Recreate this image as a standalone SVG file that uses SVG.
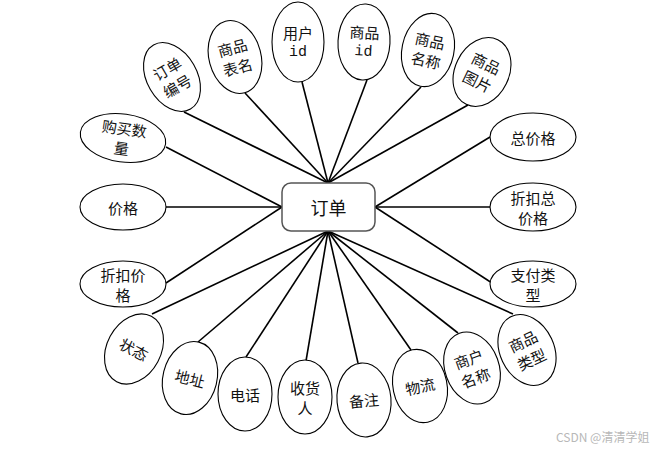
<svg xmlns="http://www.w3.org/2000/svg" width="660" height="452" viewBox="0 0 660 452">
<style>
.bg{fill:#ffffff}
.e{fill:#ffffff;stroke:#000;stroke-width:1.1}
.t{font-family:"Noto Sans CJK SC","Liberation Sans",sans-serif;font-size:15px;fill:#111;text-anchor:middle;dominant-baseline:central}
.m{font-family:"Liberation Mono",monospace;font-size:15px}
.c line{stroke:#000;stroke-width:1.6}
.wm{font-family:"Noto Sans CJK SC","Liberation Sans",sans-serif;font-size:12px;fill:#b8b8b8}
</style>
<rect class="bg" x="0" y="0" width="660" height="452"/>
<g id="connectors" class="c">
<line x1="184" y1="112" x2="328" y2="183"/>
<line x1="245" y1="93" x2="328" y2="183"/>
<line x1="302" y1="82" x2="328" y2="183"/>
<line x1="367" y1="80" x2="328" y2="183"/>
<line x1="421" y1="87" x2="328" y2="183"/>
<line x1="468" y1="105" x2="328" y2="183"/>
<line x1="166" y1="147" x2="282" y2="207"/>
<line x1="166" y1="207" x2="282" y2="207"/>
<line x1="166" y1="283" x2="282" y2="207"/>
<line x1="490" y1="137" x2="375" y2="207"/>
<line x1="490" y1="207" x2="375" y2="207"/>
<line x1="492" y1="283" x2="375" y2="207"/>
<line x1="152" y1="314" x2="328" y2="231"/>
<line x1="198" y1="342" x2="328" y2="231"/>
<line x1="246" y1="357" x2="328" y2="231"/>
<line x1="306" y1="361" x2="328" y2="231"/>
<line x1="358" y1="363" x2="328" y2="231"/>
<line x1="411" y1="350" x2="328" y2="231"/>
<line x1="458" y1="333" x2="328" y2="231"/>
<line x1="513" y1="314" x2="328" y2="231"/>
</g>
<g id="order">
<rect x="282" y="183" width="93" height="48" rx="9" fill="#fff" stroke="#555" stroke-width="1.5"/>
<text class="t" x="328.5" y="207" style="font-size:18px">订单</text>
</g>
<g id="n-ddbh" transform="translate(172,77) rotate(-30)"><ellipse class="e" rx="25" ry="37"/><text class="t" y="-10">订单</text><text class="t" y="10">编号</text></g>
<g id="n-spbm" transform="translate(235,57) rotate(-15)"><ellipse class="e" rx="26" ry="37"/><text class="t" y="-10">商品</text><text class="t" y="10">表名</text></g>
<g id="n-yhid" transform="translate(298,42)"><ellipse class="e" rx="26" ry="40"/><text class="t" y="-10">用户</text><text class="t m" y="10">id</text></g>
<g id="n-spid" transform="translate(364,42) rotate(3)"><ellipse class="e" rx="26" ry="38"/><text class="t" y="-10">商品</text><text class="t m" y="10">id</text></g>
<g id="n-spmc" transform="translate(428,50) rotate(12)"><ellipse class="e" rx="26" ry="37"/><text class="t" y="-10">商品</text><text class="t" y="10">名称</text></g>
<g id="n-sptp" transform="translate(482,72) rotate(26)"><ellipse class="e" rx="27" ry="36"/><text class="t" y="-10">商品</text><text class="t" y="10">图片</text></g>
<g id="n-gmsl" transform="translate(123,138) rotate(8)"><ellipse class="e" rx="43" ry="24"/><text class="t" y="-10">购买数</text><text class="t" y="10">量</text></g>
<g id="n-jg" transform="translate(123,207)"><ellipse class="e" rx="43" ry="23"/><text class="t" y="0">价格</text></g>
<g id="n-zkjg" transform="translate(123,284)"><ellipse class="e" rx="43" ry="23"/><text class="t" y="-10">折扣价</text><text class="t" y="10">格</text></g>
<g id="n-zjg" transform="translate(533,137)"><ellipse class="e" rx="43" ry="24"/><text class="t" y="0">总价格</text></g>
<g id="n-zkzjg" transform="translate(533,207)"><ellipse class="e" rx="43" ry="24"/><text class="t" y="-10">折扣总</text><text class="t" y="10">价格</text></g>
<g id="n-zflx" transform="translate(533,284)"><ellipse class="e" rx="43" ry="23"/><text class="t" y="-10">支付类</text><text class="t" y="10">型</text></g>
<g id="n-zt" transform="translate(134,349) rotate(28)"><ellipse class="e" rx="27" ry="37"/><text class="t" y="0">状态</text></g>
<g id="n-dz" transform="translate(190,378) rotate(14)"><ellipse class="e" rx="27" ry="37"/><text class="t" y="0">地址</text></g>
<g id="n-dh" transform="translate(245,394)"><ellipse class="e" rx="27" ry="37"/><text class="t" y="0">电话</text></g>
<g id="n-shr" transform="translate(305,397)"><ellipse class="e" rx="27" ry="37"/><text class="t" y="-10">收货</text><text class="t" y="10">人</text></g>
<g id="n-bz" transform="translate(364,400) rotate(-5)"><ellipse class="e" rx="27" ry="37"/><text class="t" y="0">备注</text></g>
<g id="n-wl" transform="translate(420,386) rotate(-12)"><ellipse class="e" rx="27" ry="37"/><text class="t" y="0">物流</text></g>
<g id="n-shmc" transform="translate(472,368) rotate(-20)"><ellipse class="e" rx="27" ry="37"/><text class="t" y="-10">商户</text><text class="t" y="10">名称</text></g>
<g id="n-splx" transform="translate(527,350) rotate(-25)"><ellipse class="e" rx="27" ry="37"/><text class="t" y="-10">商品</text><text class="t" y="10">类型</text></g>
<text class="wm" x="556" y="442">CSDN @清清学姐</text>
</svg>
